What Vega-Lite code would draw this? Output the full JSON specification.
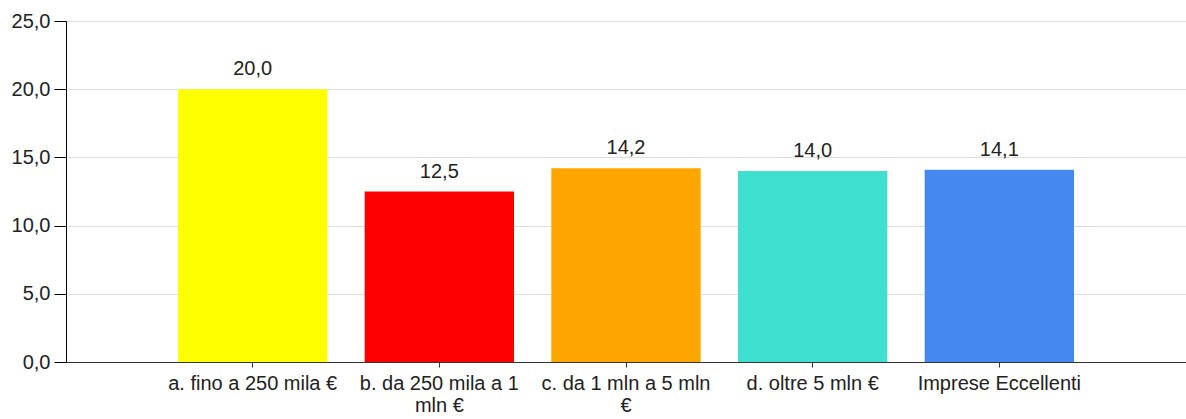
{
  "$schema": "https://vega.github.io/schema/vega-lite/v6.json",
  "autosize": {"type": "none"},
  "padding": {"left": 66, "top": 21, "right": 0, "bottom": 57},
  "width": 1120,
  "height": 341,
  "config": {
    "locale": {"number": {"decimal": ",", "thousands": ".", "grouping": [3], "currency": ["€", ""]}},
    "view": {"stroke": null},
    "font": "Liberation Sans"
  },
  "data": {
    "values": [
      {"categoria": "a. fino a 250 mila €", "valore": 20.0, "colore": "#FFFF00"},
      {"categoria": "b. da 250 mila a 1 mln €", "valore": 12.5, "colore": "#FF0000"},
      {"categoria": "c. da 1 mln a 5 mln €", "valore": 14.2, "colore": "#FFA500"},
      {"categoria": "d. oltre 5 mln €", "valore": 14.0, "colore": "#40E0D0"},
      {"categoria": "Imprese Eccellenti", "valore": 14.1, "colore": "#448AEE"}
    ]
  },
  "encoding": {
    "x": {
      "field": "categoria",
      "type": "nominal",
      "sort": null,
      "scale": {"paddingInner": 0.2, "paddingOuter": 0.6},
      "axis": {
        "title": null,
        "labelAngle": 0,
        "labelFontSize": 20,
        "labelColor": "#222222",
        "labelPadding": 6,
        "labelLimit": 300,
        "labelExpr": "datum.value == 'b. da 250 mila a 1 mln €' ? ['b. da 250 mila a 1', 'mln €'] : datum.value == 'c. da 1 mln a 5 mln €' ? ['c. da 1 mln a 5 mln', '€'] : datum.value",
        "labelLineHeight": 22,
        "tickSize": 5,
        "tickColor": "#333333",
        "domainColor": "#333333",
        "grid": false
      }
    },
    "y": {
      "field": "valore",
      "type": "quantitative",
      "scale": {"domain": [0, 25]},
      "axis": {
        "title": null,
        "values": [0, 5, 10, 15, 20, 25],
        "format": ".1f",
        "labelFontSize": 20,
        "labelColor": "#222222",
        "labelPadding": 4,
        "tickSize": 12,
        "tickColor": "#000000",
        "domainColor": "#000000",
        "gridColor": "#dddddd"
      }
    }
  },
  "layer": [
    {
      "mark": {"type": "bar"},
      "encoding": {"color": {"field": "colore", "type": "nominal", "scale": null, "legend": null}}
    },
    {
      "mark": {"type": "text", "baseline": "alphabetic", "dy": -14, "fontSize": 20, "color": "#222222"},
      "encoding": {"text": {"field": "valore", "type": "quantitative", "format": ".1f"}}
    }
  ]
}
